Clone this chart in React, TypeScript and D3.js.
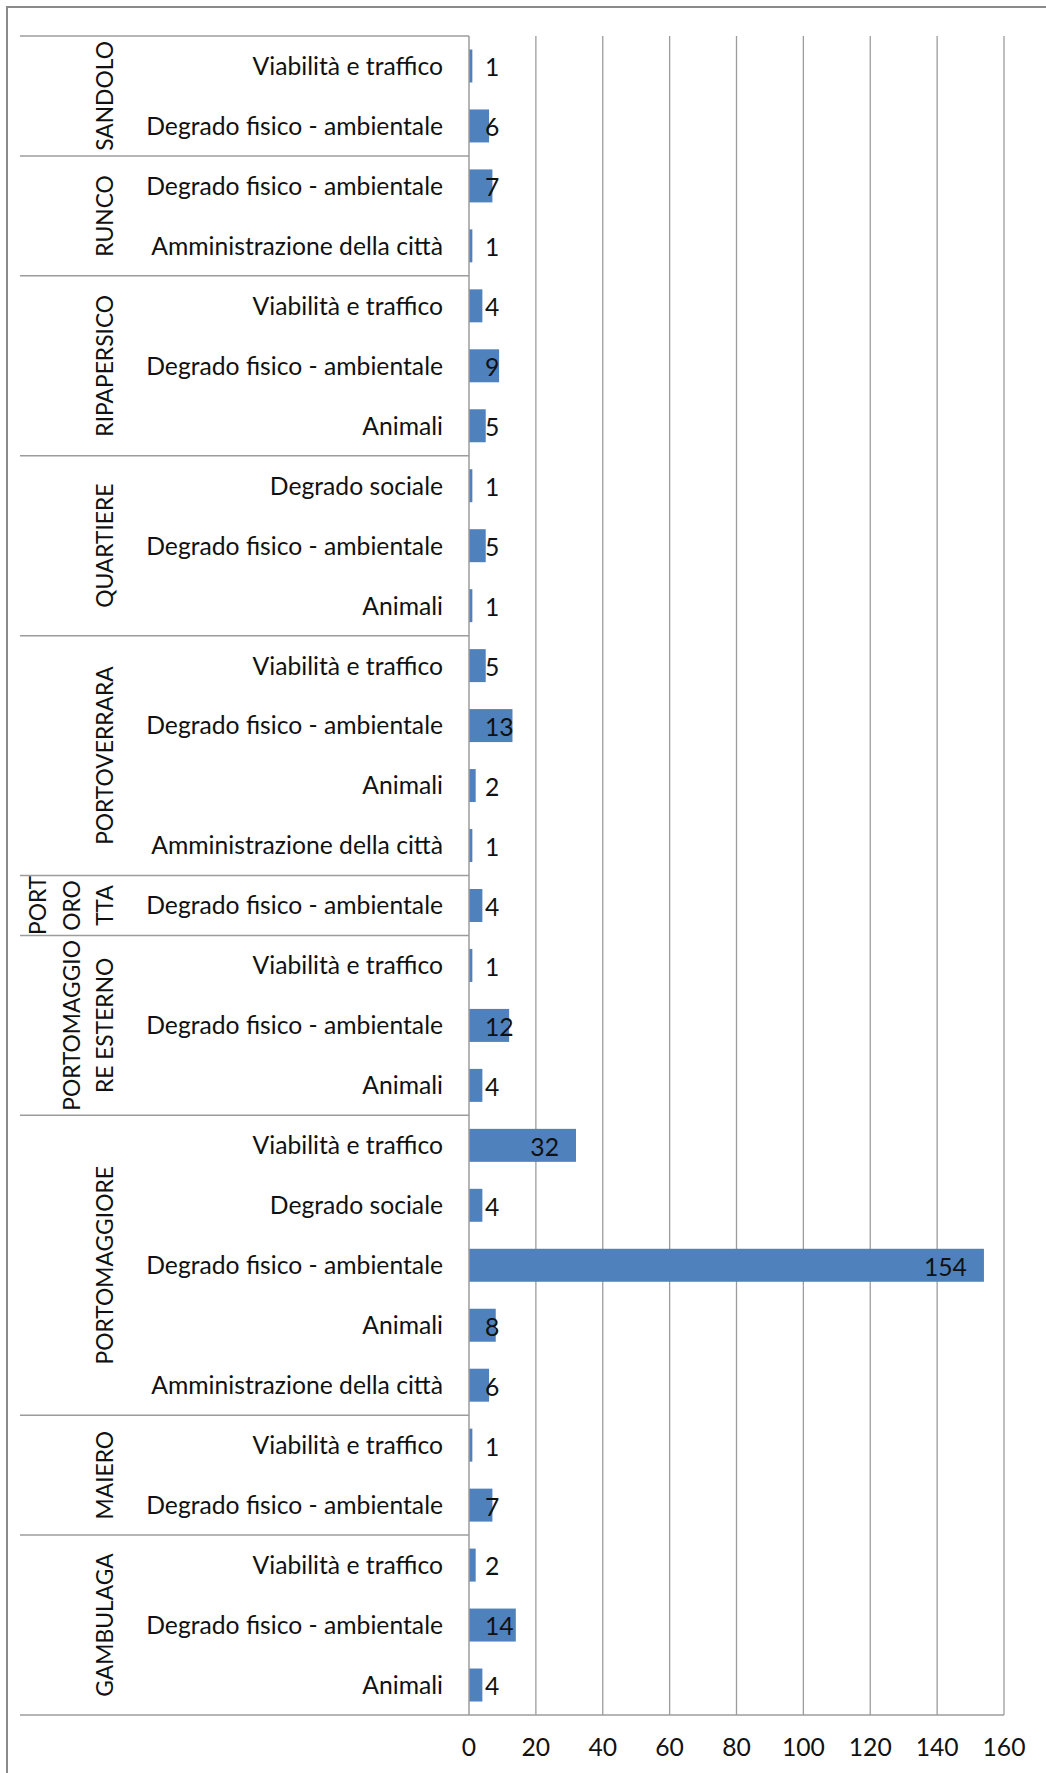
import React from "react";
import * as d3 from "d3";

const districts = [
  "SANDOLO",
  "RUNCO",
  "RIPAPERSICO",
  "QUARTIERE",
  "PORTOVERRARA",
  "PORTOROTTA",
  "PORTOMAGGIORE ESTERNO",
  "PORTOMAGGIORE",
  "MAIERO",
  "GAMBULAGA",
];
const districtLabelLines = [
  ["SANDOLO"],
  ["RUNCO"],
  ["RIPAPERSICO"],
  ["QUARTIERE"],
  ["PORTOVERRARA"],
  ["PORT", "ORO", "TTA"],
  ["PORTOMAGGIO", "RE ESTERNO"],
  ["PORTOMAGGIORE"],
  ["MAIERO"],
  ["GAMBULAGA"],
];

const rowDistrict = [
  "SANDOLO", "SANDOLO",
  "RUNCO", "RUNCO",
  "RIPAPERSICO", "RIPAPERSICO", "RIPAPERSICO",
  "QUARTIERE", "QUARTIERE", "QUARTIERE",
  "PORTOVERRARA", "PORTOVERRARA", "PORTOVERRARA", "PORTOVERRARA",
  "PORTOROTTA",
  "PORTOMAGGIORE ESTERNO", "PORTOMAGGIORE ESTERNO", "PORTOMAGGIORE ESTERNO",
  "PORTOMAGGIORE", "PORTOMAGGIORE", "PORTOMAGGIORE", "PORTOMAGGIORE", "PORTOMAGGIORE",
  "MAIERO", "MAIERO",
  "GAMBULAGA", "GAMBULAGA", "GAMBULAGA",
];
const rowCategory = [
  "Viabilità e traffico", "Degrado fisico - ambientale",
  "Degrado fisico - ambientale", "Amministrazione della città",
  "Viabilità e traffico", "Degrado fisico - ambientale", "Animali",
  "Degrado sociale", "Degrado fisico - ambientale", "Animali",
  "Viabilità e traffico", "Degrado fisico - ambientale", "Animali", "Amministrazione della città",
  "Degrado fisico - ambientale",
  "Viabilità e traffico", "Degrado fisico - ambientale", "Animali",
  "Viabilità e traffico", "Degrado sociale", "Degrado fisico - ambientale", "Animali", "Amministrazione della città",
  "Viabilità e traffico", "Degrado fisico - ambientale",
  "Viabilità e traffico", "Degrado fisico - ambientale", "Animali",
];
const rowValue = [
  1, 6,
  7, 1,
  4, 9, 5,
  1, 5, 1,
  5, 13, 2, 1,
  4,
  1, 12, 4,
  32, 4, 154, 8, 6,
  1, 7,
  2, 14, 4,
];
const xTicks = [0, 20, 40, 60, 80, 100, 120, 140, 160];

const FONT = "Lato, 'Open Sans', sans-serif";
const FS = 24.7;
const GFS = 22.8;

export default function App() {
  const W = 1046;
  const H = 1773;
  const plotTop = 36;
  const plotBottom = 1715;
  const x0 = 469;
  const x1 = 1004;
  const sepLeft = 20;

  const x = d3.scaleLinear().domain([0, 160]).range([x0, x1]);
  const y = d3
    .scaleBand<number>()
    .domain(d3.range(rowValue.length))
    .range([plotTop, plotBottom])
    .paddingInner(0.45)
    .paddingOuter(0.225);
  const step = y.step();
  const bw = y.bandwidth();
  const slotTop = (i: number) => (y(i) as number) - (step - bw) / 2;

  const groups = districts.map((name, gi) => {
    const idx = rowDistrict
      .map((d, i) => (d === name ? i : -1))
      .filter((i) => i >= 0);
    const first = d3.min(idx) as number;
    const last = d3.max(idx) as number;
    return {
      name,
      lines: districtLabelLines[gi],
      top: slotTop(first),
      bottom: slotTop(last) + step,
    };
  });

  const digitW = 13.3;

  return (
    <svg
      width={W}
      height={H}
      style={{ position: "absolute", left: 0, top: 0, display: "block" }}
      fontFamily={FONT}
    >
      <rect x={0} y={0} width={W} height={H} fill="#fff" />
      <rect
        x={7}
        y={7}
        width={W + 20}
        height={H + 20}
        fill="none"
        stroke="#8a8a8a"
        strokeWidth={2}
      />
      {xTicks
        .filter((t) => t > 0)
        .map((t) => (
          <line
            key={"g" + t}
            x1={x(t)}
            x2={x(t)}
            y1={plotTop}
            y2={plotBottom}
            stroke="#9c9c9c"
            strokeWidth={1.3}
          />
        ))}
      {rowValue.map((v, i) => (
        <rect
          key={"b" + i}
          x={x(0)}
          y={y(i) as number}
          width={x(v) - x(0)}
          height={bw}
          fill="#4F81BD"
        />
      ))}
      {rowValue.map((v, i) => {
        const w = String(v).length * digitW;
        const endX = x(v) - 17;
        const cy = (y(i) as number) + bw / 2 + 1.5;
        const fitsInside = endX - w > 485;
        return (
          <text
            key={"l" + i}
            x={fitsInside ? endX : 485}
            y={cy}
            dy="0.36em"
            textAnchor={fitsInside ? "end" : "start"}
            fontSize={FS}
            fill="#111"
          >
            {v}
          </text>
        );
      })}
      <line
        x1={x0}
        x2={x0}
        y1={plotTop}
        y2={plotBottom}
        stroke="#9c9c9c"
        strokeWidth={1.5}
      />
      {groups.map((g) => (
        <line
          key={"s" + g.name}
          x1={sepLeft}
          x2={x0}
          y1={g.top}
          y2={g.top}
          stroke="#9c9c9c"
          strokeWidth={1.5}
        />
      ))}
      <line
        x1={sepLeft}
        x2={x1}
        y1={plotBottom}
        y2={plotBottom}
        stroke="#9c9c9c"
        strokeWidth={1.5}
      />
      {rowCategory.map((c, i) => (
        <text
          key={"c" + i}
          x={443}
          y={(y(i) as number) + bw / 2}
          dy="0.36em"
          textAnchor="end"
          fontSize={FS}
          fill="#111"
        >
          {c}
        </text>
      ))}
      {groups.map((g) => {
        const cy = (g.top + g.bottom) / 2;
        const n = g.lines.length;
        return g.lines.map((ln, li) => {
          const cx = 105 - (n - 1 - li) * 33.5;
          return (
            <text
              key={"gl" + g.name + li}
              transform={`translate(${cx},${cy}) rotate(-90)`}
              dy="0.36em"
              textAnchor="middle"
              fontSize={GFS}
              fill="#111"
            >
              {ln}
            </text>
          );
        });
      })}
      {xTicks.map((t) => (
        <text
          key={"t" + t}
          x={x(t)}
          y={1747}
          dy="0.36em"
          textAnchor="middle"
          fontSize={FS}
          fill="#111"
        >
          {t}
        </text>
      ))}
    </svg>
  );
}
